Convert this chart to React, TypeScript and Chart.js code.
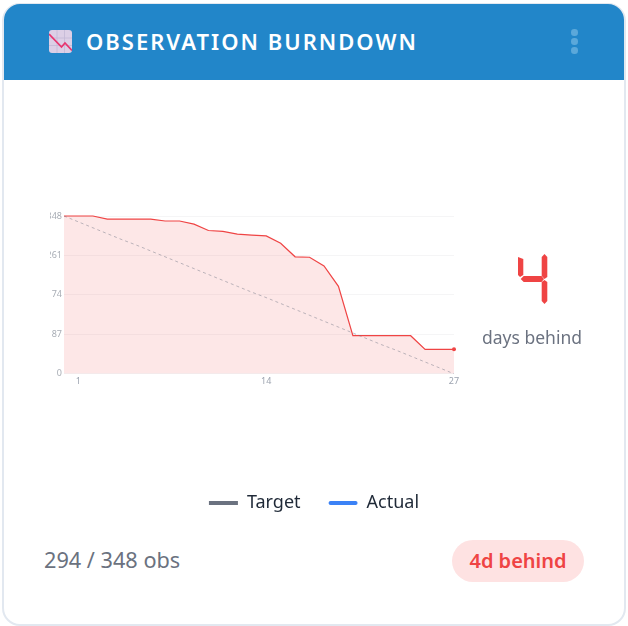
import { useEffect, useRef } from 'react';
import { Chart, registerables } from 'chart.js';

Chart.register(...registerables);

const days = [0, 1, 2, 3, 4, 5, 6, 7, 8, 9, 10, 11, 12, 13, 14, 15, 16, 17, 18, 19, 20, 21, 22, 23, 24, 25, 26, 27];
const actual = [348, 348, 348, 341, 341, 341, 341, 337, 337, 330, 316, 314, 308, 306, 304, 288, 258, 257, 238, 193, 84, 84, 84, 84, 84, 54, 54, 54];
const target = [348, 335, 322, 309, 296, 284, 271, 258, 245, 232, 219, 206, 193, 180, 168, 155, 142, 129, 116, 103, 90, 77, 64, 52, 39, 26, 13, 0];
const xTicks = [1, 14, 27];
const yTicks = [0, 87, 174, 261, 348];
const FONT = '"Noto Sans", "Open Sans", sans-serif';

function BurndownChart() {
  const canvasRef = useRef<HTMLCanvasElement | null>(null);
  useEffect(() => {
    if (!canvasRef.current) return;
    const chart = new Chart(canvasRef.current, {
      type: 'line',
      data: {
        datasets: [
          {
            label: 'Target',
            data: days.map((d, i) => ({ x: d, y: target[i] })),
            borderColor: 'rgba(107,114,128,0.45)',
            borderWidth: 1,
            borderDash: [3, 3],
            pointRadius: 0,
            fill: false,
          },
          {
            label: 'Actual',
            data: days.map((d, i) => ({ x: d, y: actual[i] })),
            borderColor: '#ef4444',
            backgroundColor: 'rgba(239,68,68,0.13)',
            borderWidth: 1.2,
            pointRadius: (ctx: any) => (ctx.dataIndex === days.length - 1 ? 2 : 0),
            pointBackgroundColor: '#ef4444',
            pointBorderWidth: 0,
            fill: 'origin',
            clip: false,
          },
        ],
      },
      options: {
        animation: false,
        responsive: false,
        layout: { padding: { top: 136, right: 0, bottom: 0, left: 0 } },
        plugins: {
          tooltip: { enabled: false },
          legend: {
            position: 'bottom',
            // the empty title only holds the gap between the plot and the legend
            title: { display: true, text: '', padding: { top: 0, bottom: 63 }, font: { size: 12 } },
            labels: {
              boxWidth: 29,
              boxHeight: 4,
              padding: 28,
              font: { family: FONT, size: 18 },
              generateLabels: () => [
                { text: 'Target', fillStyle: '#6b7280', strokeStyle: '#6b7280', fontColor: '#1f2937', lineWidth: 0, datasetIndex: 0 },
                { text: 'Actual', fillStyle: '#3b82f6', strokeStyle: '#3b82f6', fontColor: '#1f2937', lineWidth: 0, borderRadius: 2, datasetIndex: 1 },
              ],
            },
          },
        },
        scales: {
          x: {
            type: 'linear',
            min: 0,
            max: 27,
            afterBuildTicks: (axis: any) => {
              axis.ticks = xTicks.map((value) => ({ value }));
            },
            grid: { display: false, drawTicks: false },
            border: { display: false },
            ticks: { color: '#9ca3af', font: { family: FONT, size: 9 }, padding: 2, maxRotation: 0 },
          },
          y: {
            min: 0,
            max: 348,
            afterBuildTicks: (axis: any) => {
              axis.ticks = yTicks.map((value) => ({ value }));
            },
            afterFit: (axis: any) => {
              axis.width = 14;
            },
            grid: { color: '#f5f5f6', drawTicks: false },
            border: { display: false },
            ticks: { color: '#a8adb5', font: { family: FONT, size: 9 }, padding: 2 },
          },
          // empty axis keeping the room for the "days behind" block right of the plot
          side: {
            position: 'right',
            grid: { display: false, drawTicks: false },
            border: { display: false },
            ticks: { display: false },
            afterFit: (axis: any) => {
              axis.width = 124;
            },
          },
        },
      },
    });
    return () => chart.destroy();
  }, []);

  return <canvas ref={canvasRef} width={528} height={442} style={{ position: 'absolute', left: 50, top: 80, width: 528, height: 442 }} />;
}

export default function App() {
  return (
    <div style={{ position: 'fixed', inset: 0, background: '#fff', fontFamily: FONT, overflow: 'hidden' }}>
      <div style={{ position: 'absolute', left: 2, top: 3, width: 624, height: 623, boxSizing: 'border-box', border: '2px solid #e2e8f0', borderRadius: 18, overflow: 'hidden', background: '#fff' }} />
      <div style={{ position: 'absolute', left: 4, top: 4, width: 620, height: 76, background: '#2286c9', borderRadius: '16px 16px 0 0' }} />
      <svg width={23} height={23} viewBox="0 0 23 23" style={{ position: 'absolute', left: 49, top: 30 }}>
        <rect x={0} y={0} width={23} height={23} rx={3} fill="#dccfe6" />
        <path d="M8 0V23M15.5 0V23M0 8H23M0 15.5H23" stroke="#c3b9d6" strokeWidth={0.8} />
        <path d="M0 4L12.5 17L16 13L23 20.5" fill="none" stroke="#e8356f" strokeWidth={1.8} />
      </svg>
      <div style={{ position: 'absolute', left: 86, top: 26, color: '#fff', fontSize: 22, fontWeight: 600, letterSpacing: 2, lineHeight: '30px', whiteSpace: 'nowrap' }}>OBSERVATION BURNDOWN</div>
      {[32, 41, 50].map((cy) => (
        <div key={cy} style={{ position: 'absolute', left: 571, top: cy - 3, width: 6.5, height: 6.5, borderRadius: '50%', background: '#5ba8da' }} />
      ))}
      <BurndownChart />
      <svg width={40} height={60} viewBox="0 0 40 60" style={{ position: 'absolute', left: 512, top: 250 }} role="img" aria-label="4">
        <polygon points="6,7 11.3,9 11.3,25 8,27 6,25" fill="#ef4444" />
        <polygon points="8.7,29 11.7,26 29.5,26 32,29 29.5,32 11.7,32" fill="#ef4444" />
        <polygon points="32.5,4 35.3,7 35.3,27 32.5,29 29.7,26 29.7,7" fill="#ef4444" />
        <polygon points="32.5,30 35.3,32 35.3,51 32.5,54 29.7,51 29.7,32" fill="#ef4444" />
      </svg>
      <div style={{ position: 'absolute', left: 462, width: 140, top: 324, textAlign: 'center', color: '#6b7280', fontSize: 17.5, lineHeight: '26px' }}>days behind</div>
      <div style={{ position: 'absolute', left: 44, top: 545, color: '#6b7280', fontSize: 21.7, lineHeight: '30px', whiteSpace: 'nowrap' }}>294 / 348 obs</div>
      <div style={{ position: 'absolute', left: 452, top: 540, width: 132, height: 42, borderRadius: 21, background: '#fee2e2', color: '#ef4444', fontSize: 20, fontWeight: 600, lineHeight: '41px', textAlign: 'center' }}>4d behind</div>
    </div>
  );
}
